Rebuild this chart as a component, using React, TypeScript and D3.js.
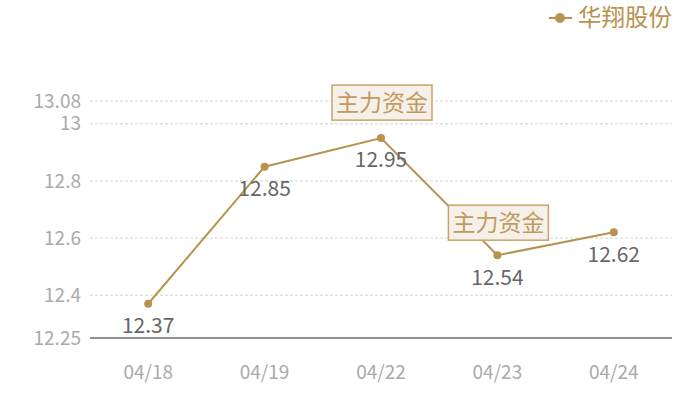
import React from "react";
import * as d3 from "d3";

const dates = ["04/18", "04/19", "04/22", "04/23", "04/24"];
const prices = [12.37, 12.85, 12.95, 12.54, 12.62];
const yTicks = [12.25, 12.4, 12.6, 12.8, 13, 13.08];
const seriesName = "华翔股份";
const annotations = [
  { date: "04/22", text: "主力资金" },
  { date: "04/23", text: "主力资金" },
];

const W = 700;
const H = 400;
const gold = "#b8924f";
const font = "'Noto Sans CJK SC', 'Noto Sans', sans-serif";

export default function App() {
  const x = d3.scaleBand<string>().domain(dates).range([90, 672]);
  const y = d3.scaleLinear().domain([12.25, 13.08]).range([338, 101]);
  const cx = (d: string) => (x(d) as number) + x.bandwidth() / 2;
  const line = d3
    .line<number>()
    .x((_, i) => cx(dates[i]))
    .y((v) => y(v));

  return (
    <svg
      width={W}
      height={H}
      style={{ position: "absolute", left: 0, top: 0 }}
      fontFamily={font}
    >
      <rect width={W} height={H} fill="#fff" />
      {yTicks.map((t) => (
        <g key={t}>
          {t !== 12.25 && (
            <line
              x1={90}
              x2={672}
              y1={y(t)}
              y2={y(t)}
              stroke="#d4d4d4"
              strokeDasharray="3,2"
              strokeWidth={1}
            />
          )}
          <text
            x={81}
            y={y(t)}
            dy="0.35em"
            textAnchor="end"
            fontSize={19}
            fill="#aaaaaa"
          >
            {t}
          </text>
        </g>
      ))}
      <line x1={90} x2={672} y1={338} y2={338} stroke="#222" strokeWidth={1} />
      {dates.map((d) => (
        <text
          key={d}
          x={cx(d)}
          y={372}
          dy="0.35em"
          textAnchor="middle"
          fontSize={19}
          fill="#aaaaaa"
        >
          {d}
        </text>
      ))}
      <path d={line(prices) || ""} fill="none" stroke={gold} strokeWidth={2} />
      {prices.map((v, i) => (
        <text
          key={"l" + i}
          x={cx(dates[i])}
          y={y(v) + 22}
          dy="0.35em"
          textAnchor="middle"
          fontSize={21}
          fill="#666"
        >
          {v}
        </text>
      ))}
      {prices.map((v, i) => (
        <circle key={"c" + i} cx={cx(dates[i])} cy={y(v)} r={4} fill={gold} />
      ))}
      {annotations.map((a, i) => {
        const idx = dates.indexOf(a.date);
        const px = cx(a.date);
        const py = y(prices[idx]);
        const bw = 100;
        const bh = 35;
        const bx = px - 49;
        const by = py - 53 + (i === 0 ? 0 : 3);
        return (
          <g key={"a" + i}>
            <rect
              x={bx}
              y={by}
              width={bw}
              height={bh}
              fill="#f5f0e9"
              stroke="#c9a466"
              strokeWidth={1.5}
            />
            <text
              x={bx + bw / 2}
              y={by + bh / 2}
              dy="0.35em"
              textAnchor="middle"
              fontSize={23}
              fill="#c29a5c"
            >
              {a.text}
            </text>
          </g>
        );
      })}
      <g>
        <line x1={549} x2={572} y1={18} y2={18} stroke={gold} strokeWidth={2} />
        <circle cx={560} cy={18} r={5} fill={gold} />
        <text x={578} y={18} dy="0.35em" fontSize={23.5} fill={gold}>
          {seriesName}
        </text>
      </g>
    </svg>
  );
}
